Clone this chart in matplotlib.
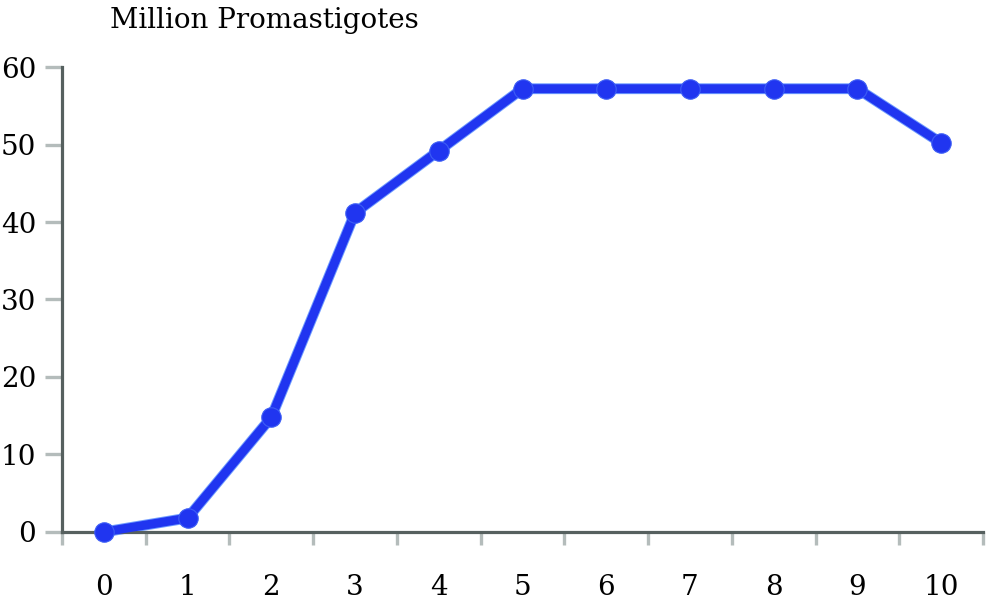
import matplotlib
matplotlib.use("Agg")
import matplotlib.pyplot as plt
import numpy as np

categories = ["0", "1", "2", "3", "4", "5", "6", "7", "8", "9", "10"]
promastigotes = [0, 1.8, 14.8, 41.2, 49.2, 57.2, 57.2, 57.2, 57.2, 57.2, 50.2]
y_ticks = [0, 10, 20, 30, 40, 50, 60]
title_text = "Million Promastigotes"

plt.rcParams['font.family'] = ['DejaVu Serif']

fig = plt.figure(figsize=(10, 6.16), dpi=100)
ax = fig.add_axes([0.062, 0.1364, 0.921, 0.7548])

x = np.arange(len(categories))
ax.plot(x, promastigotes, color='#6f9cff', lw=7.8, solid_joinstyle='round',
        solid_capstyle='round', zorder=2, clip_on=False)
ax.plot(x, promastigotes, color='#2035f0', lw=6.4, marker='o', markersize=14,
        markerfacecolor='#2035f0', markeredgecolor='#3d5ef5', markeredgewidth=0.8,
        solid_joinstyle='round', zorder=3, clip_on=False)

ax.set_xlim(-0.5, len(categories) - 0.5)
ax.set_ylim(0, 60)

for s in ['top', 'right']:
    ax.spines[s].set_visible(False)
for s in ['left', 'bottom']:
    ax.spines[s].set_color('#56605f')
    ax.spines[s].set_linewidth(2.3)

ax.set_xticks(x)
ax.set_xticklabels(categories)
ax.set_xticks(np.arange(-0.5, len(categories)), minor=True)
ax.tick_params(axis='x', which='major', length=0, pad=30, labelsize=20)
ax.tick_params(axis='x', which='minor', length=9.5, width=2.4, color='#b4bcbb', direction='out')

ax.set_yticks(y_ticks)
ax.tick_params(axis='y', which='major', length=12.5, width=2.4, color='#b4bcbb',
               direction='out', pad=6, labelsize=20)

fig.text(0.110, 0.966, title_text, fontsize=20, ha='left', va='center')

fig.savefig("out.png", dpi=100, facecolor='white')
